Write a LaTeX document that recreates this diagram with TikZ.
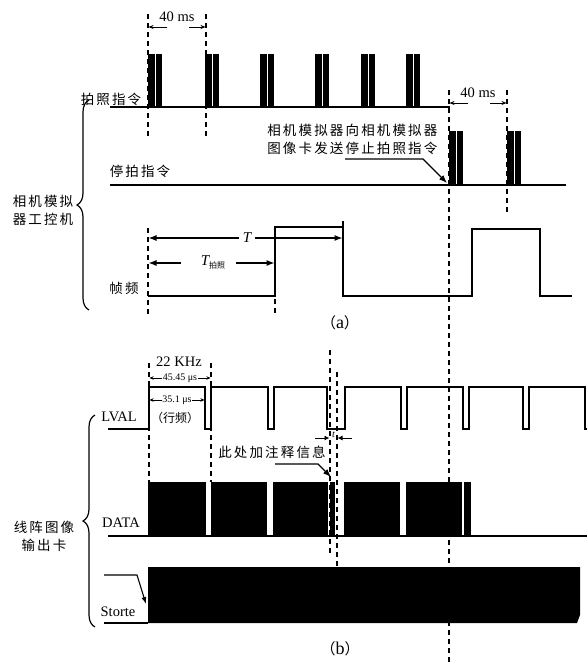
\documentclass[tikz,border=0pt]{standalone}
\usepackage{fontspec}
\setmainfont{Liberation Serif}
\newfontfamily\cjk[LetterSpace=16]{Noto Sans CJK SC}
\newfontfamily\cjkplain{Noto Sans CJK SC}
\usetikzlibrary{arrows.meta, decorations.pathreplacing}

\begin{document}
\begin{tikzpicture}[x=1pt, y=-1pt, line width=1.2pt,
    cn/.style={font=\cjk\fontsize{13.5}{18}\selectfont, inner sep=0pt},
    en/.style={font=\fontsize{14.5}{16}\selectfont, inner sep=0pt},
    figlabel/.style={font=\fontsize{18}{18}\selectfont, inner sep=0pt},
    guide/.style={dash pattern=on 5pt off 4pt, line width=1.1pt},
    dimarrow/.style={-{Stealth[length=5pt,width=4pt]}, line width=0.9pt},
    dimboth/.style={{Stealth[length=4pt,width=3.5pt]}-{Stealth[length=4pt,width=3.5pt]}, line width=0.9pt},
    bigarrow/.style={-{Latex[length=8pt,width=6pt]}, line width=1.1pt},
    sbrace/.style={decorate, decoration={brace, amplitude=12pt}, line width=1.2pt}]
\useasboundingbox (0,0) rectangle (587,664);

% ---------- (a) ----------
% shutter command
\node[cn] (shoot) at (111,99) {拍照指令};
\draw (110,107) -- (450,107);
\foreach \p in {148,205,260,315,361,406} {
    \fill (\p,54) rectangle +(6.5,53);
    \fill (\p+7.5,54) rectangle +(6.5,53);
}
\draw[guide] (148,14) -- (148,137);
\draw[guide] (206,14) -- (206,137);
\node[en] (msA) at (177,17) {40 ms};
\draw[dimarrow] (167,27) -- (148.5,27);
\draw[dimarrow] (189,27) -- (205.5,27);

% stop command
\node[cn] (stop) at (140,171) {停拍指令};
\draw (110,185) -- (566,185);
\foreach \p in {449,507} {
    \fill (\p,131) rectangle +(6.5,54);
    \fill (\p+7.5,131) rectangle +(6.5,54);
}
\draw[guide] (449,90) -- (449,664);
\draw[guide] (507,90) -- (507,215);
\node[en] (msB) at (478,93) {40 ms};
\draw[dimarrow] (468,103) -- (449.5,103);
\draw[dimarrow] (490,103) -- (506.5,103);

\node[cn, align=right, anchor=east] (stopnote) at (438,139)
    {相机模拟器向相机模拟器\\图像卡发送停止拍照指令};
\coordinate (stopTip) at (447,183);
\draw[bigarrow] (345,159) -- (423,159) -- (stopTip);

% frame rate
\node[cn] (frame) at (124,288) {帧频};
\draw (148,296) -- (275,296) -- (275,227) -- (343,227) -- (343,296)
    -- (472,296) -- (472,229) -- (540,229) -- (540,296) -- (572,296);
\draw (343,221) -- (343,227);
\draw[guide] (148,228) -- (148,315);
\draw[guide] (275,299) -- (275,315);
\node[font=\itshape\fontsize{15}{15}\selectfont, inner sep=3pt] (T) at (247,238) {T};
\draw[bigarrow] (T.west) -- (148.5,238);
\draw[bigarrow] (T.east) -- (342.5,238);
\node[inner sep=0pt] (Tp) at (213,262)
    {\fontsize{15}{15}\selectfont\itshape T\raisebox{-3pt}{\cjkplain\upshape\fontsize{8}{8}\selectfont 拍照}};
\draw[bigarrow] (181,263) -- (148.5,263);
\draw[bigarrow] (236,263) -- (274.5,263);

\draw[sbrace] (89,310) -- (89,100);
\node[cn, align=center] (ctrl) at (43,210) {相机模拟\\器工控机};
\node[figlabel] (capA) at (340,323) {{\cjkplain\fontsize{15}{15}\selectfont （}a{\cjkplain\fontsize{15}{15}\selectfont ）}};

% ---------- (b) ----------
\node[en] (khz) at (179,362) {22 KHz};
\draw[guide] (149,363) -- (149,482);
\draw[guide] (211,363) -- (211,482);
\draw[guide] (330,350) -- (330,556);
\draw[guide] (337,372) -- (337,567);
\draw[dimboth] (149.5,378) -- (210.5,378)
    node[midway, fill=white, inner sep=0.5pt, font=\fontsize{10}{10}\selectfont] {45.45 μs};
\draw[dimboth] (149.5,400) -- (204.5,400)
    node[midway, fill=white, inner sep=0.5pt, font=\fontsize{10}{10}\selectfont] {35.1 μs};
\node[font=\cjkplain\fontsize{12}{12}\selectfont, inner sep=0pt] (line) at (175,418) {（行频）};

% LVAL
\node[en] (lval) at (119,417) {LVAL};
\draw (108,429) -- (149,429) -- (149,387) -- (205,387) -- (205,429) -- (211,429)
    -- (211,387) -- (268,387) -- (268,429) -- (274,429) -- (274,387) -- (327,387)
    -- (327,429) -- (345,429) -- (345,387) -- (401,387) -- (401,429) -- (407,429)
    -- (407,387) -- (463,387) -- (463,429) -- (469,429) -- (469,387) -- (523,387)
    -- (523,429) -- (529,429) -- (529,387) -- (585,387) -- (585,429) -- (587,429);
\node[font=\itshape\fontsize{10}{10}\selectfont, inner sep=0pt] (t) at (333.5,435) {t};
\draw[-{Latex[length=5pt,width=5pt]}, line width=0.9pt] (315,438) -- (329.5,438);
\draw[-{Latex[length=5pt,width=5pt]}, line width=0.9pt] (352,438) -- (337.5,438);

\node[cn] (note) at (272,452) {此处加注释信息};
\coordinate (noteTip) at (331,477);
\draw[bigarrow] (275,464) -- (318,464) -- (noteTip);

% DATA
\node[en] (data) at (121,523) {DATA};
\foreach \a/\b in {148/206, 211/267, 273/328, 330/335, 344/400, 406/462, 464/471}
    \fill (\a,482) rectangle (\b,536);
\draw (108,536) -- (587,536);

% Storte
\node[en] (storte) at (118,612) {Storte};
\fill (148,567) -- (580,567) -- (580,615) -- (577,623) -- (148,623) -- cycle;
\draw (104,623) -- (148,623);
\coordinate (storteTip) at (146,604);
\draw[-{Latex[length=7pt,width=5pt]}, line width=1.1pt] (104,575) -- (137,575) -- (storteTip);

\draw[sbrace] (95,627) -- (95,415);
\node[cn, align=center] (card) at (44,536) {线阵图像\\输出卡};
\node[figlabel] (capB) at (340,649) {{\cjkplain\fontsize{15}{15}\selectfont （}b{\cjkplain\fontsize{15}{15}\selectfont ）}};
\end{tikzpicture}
\end{document}
